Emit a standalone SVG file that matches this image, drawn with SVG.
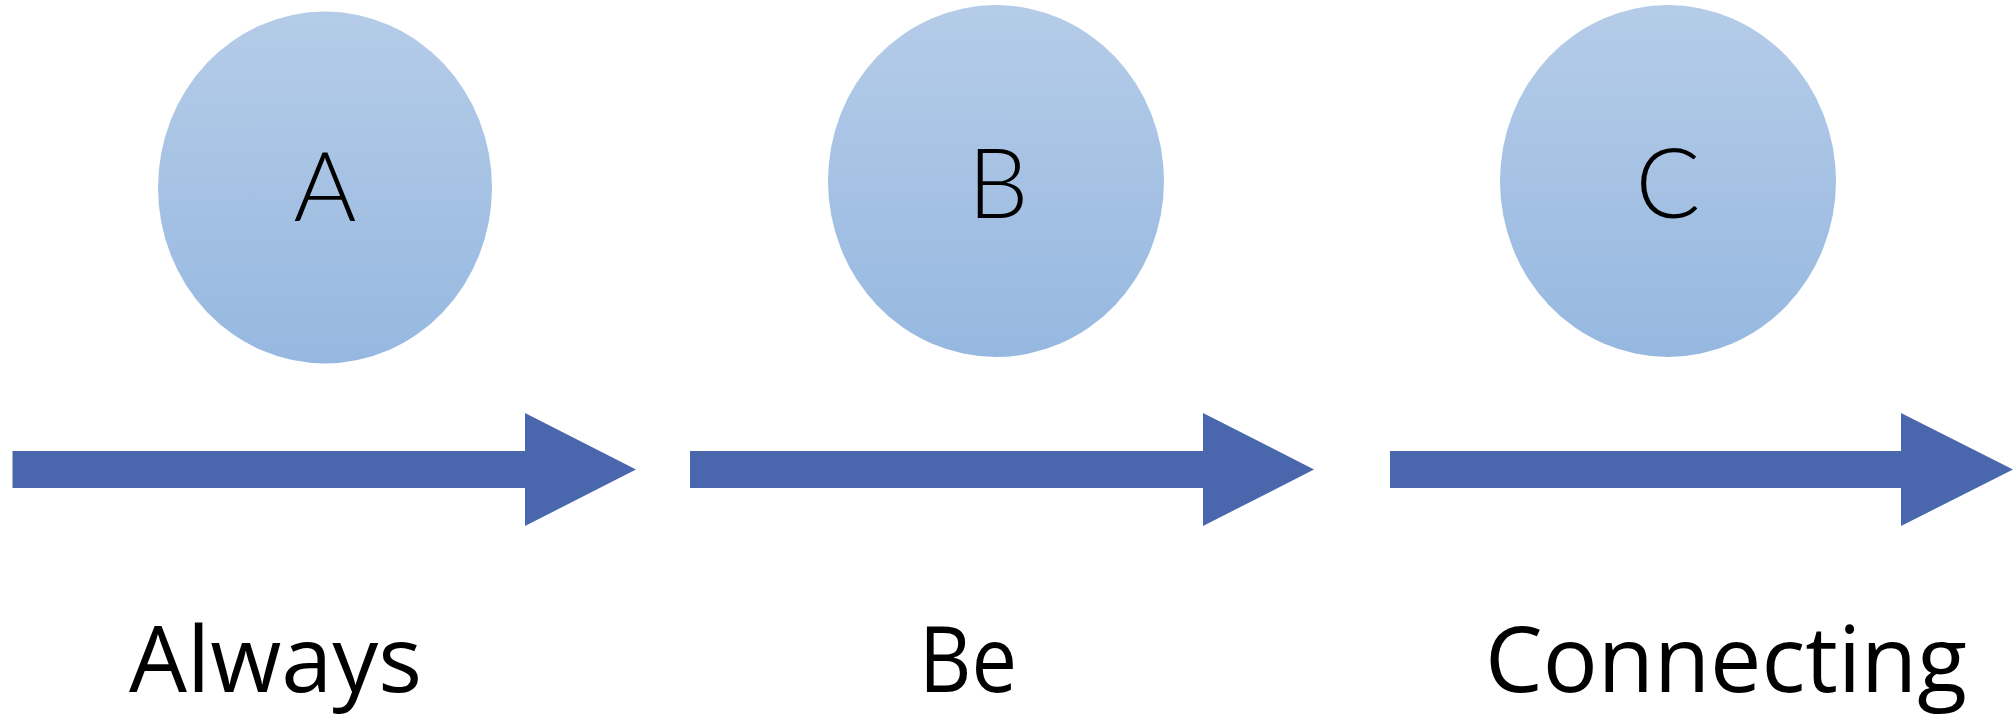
<svg xmlns="http://www.w3.org/2000/svg" width="2014" height="716" viewBox="0 0 2014 716">
  <defs>
    <linearGradient id="bubble" x1="0" y1="0" x2="0" y2="1">
      <stop offset="0" stop-color="#B5CCE8"/>
      <stop offset="1" stop-color="#96B8E0"/>
    </linearGradient>
  </defs>
  <style>
    .bubble { fill: url(#bubble); }
    .letter { font-family: "Lato", "DejaVu Sans", sans-serif; font-weight: 300; font-size: 96px; fill: #000; text-anchor: middle; }
    .label { font-family: "Open Sans", "Liberation Sans", sans-serif; font-size: 91px; fill: #000; }
    .arrow { fill: #4A67AD; }
  </style>
  <rect x="0" y="0" width="2014" height="716" fill="#FFFFFF"/>
  <g id="connectors">
    <polygon class="arrow" points="12.5,451 525,451 525,413 636,469.5 525,526 525,488 12.5,488"/>
    <polygon class="arrow" points="690,451 1203,451 1203,413 1314,469.5 1203,526 1203,488 690,488"/>
    <polygon class="arrow" points="1390,451 1901,451 1901,413 2013,469.5 1901,526 1901,488 1390,488"/>
  </g>
  <g id="node-a">
    <ellipse class="bubble" cx="325" cy="187.5" rx="167" ry="176"/>
    <text class="letter" x="325" y="221">A</text>
    <text class="label" x="129" y="692" textLength="293" lengthAdjust="spacingAndGlyphs">Always</text>
  </g>
  <g id="node-b">
    <ellipse class="bubble" cx="996" cy="181" rx="168" ry="176"/>
    <text class="letter" x="998" y="218">B</text>
    <text class="label" x="919" y="692" textLength="98" lengthAdjust="spacingAndGlyphs">Be</text>
  </g>
  <g id="node-c">
    <ellipse class="bubble" cx="1668" cy="181" rx="168" ry="176"/>
    <text class="letter" x="1668" y="218">C</text>
    <text class="label" x="1485" y="692" textLength="482" lengthAdjust="spacingAndGlyphs">Connecting</text>
  </g>
</svg>
